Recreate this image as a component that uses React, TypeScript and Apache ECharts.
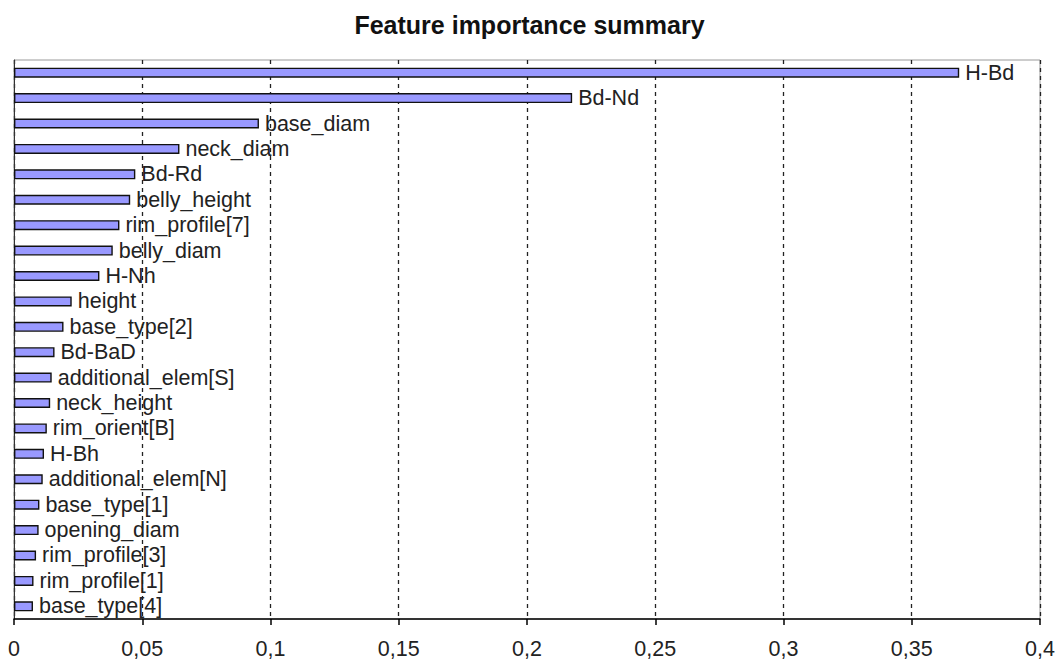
import React, { useEffect, useRef } from "react";
import * as echarts from "echarts";

const categories = [
  "H-Bd", "Bd-Nd", "base_diam", "neck_diam", "Bd-Rd", "belly_height", "rim_profile[7]",
  "belly_diam", "H-Nh", "height", "base_type[2]", "Bd-BaD", "additional_elem[S]",
  "neck_height", "rim_orient[B]", "H-Bh", "additional_elem[N]", "base_type[1]",
  "opening_diam", "rim_profile[3]", "rim_profile[1]", "base_type[4]",
];
const importance = [
  0.3685, 0.2176, 0.0955, 0.0645, 0.0473, 0.0453, 0.0411,
  0.0385, 0.0333, 0.0225, 0.0193, 0.0158, 0.0147,
  0.0141, 0.0128, 0.0117, 0.0112, 0.0099,
  0.0096, 0.0086, 0.0076, 0.0074,
];
const title = "Feature importance summary";
const xMin = 0;
const xMax = 0.4;
const xInterval = 0.05;

export default function App() {
  const ref = useRef<HTMLDivElement>(null);
  useEffect(() => {
    if (!ref.current) return;
    const chart = echarts.init(ref.current, null, { renderer: "svg" });
    const font = "Arial, 'Liberation Sans', sans-serif";
    chart.setOption({
      animation: false,
      backgroundColor: "#ffffff",
      title: {
        text: title,
        left: "center",
        top: 7,
        textStyle: { fontFamily: font, fontWeight: "bold", fontSize: 25, color: "#111" },
      },
      grid: { left: 14, right: 19, top: 60, bottom: 43, show: true, borderColor: "#9a9a9a", borderWidth: 1, backgroundColor: "transparent" },
      xAxis: {
        type: "value",
        min: xMin,
        max: xMax,
        interval: xInterval,
        axisLine: { show: true, lineStyle: { color: "#000", width: 1.5 } },
        axisTick: { show: true, length: 6, lineStyle: { color: "#000", width: 1.5 } },
        axisLabel: {
          fontFamily: font,
          fontSize: 21.5,
          color: "#222",
          margin: 19,
          formatter: (v: number) => String(Math.round(v * 100) / 100).replace(".", ","),
        },
        splitLine: { show: true, lineStyle: { color: "#222", type: [4, 4], width: 1.3 } },
      },
      yAxis: {
        type: "category",
        data: categories,
        inverse: true,
        axisLine: { show: true, lineStyle: { color: "#333", width: 1 } },
        axisTick: { show: false },
        axisLabel: { show: false },
        splitLine: { show: false },
      },
      series: [
        {
          type: "bar",
          data: importance,
          barWidth: 10,
          itemStyle: { color: "#9999ff", borderColor: "#111", borderWidth: 1.4 },
          label: {
            show: true,
            position: "right",
            distance: 6,
            formatter: "{b}",
            fontFamily: font,
            fontSize: 21.5,
            color: "#222",
          },
        },
      ],
    });
    return () => chart.dispose();
  }, []);
  return (
    <div
      ref={ref}
      style={{ position: "fixed", left: 0, top: 0, width: 1059, height: 662 }}
    />
  );
}
